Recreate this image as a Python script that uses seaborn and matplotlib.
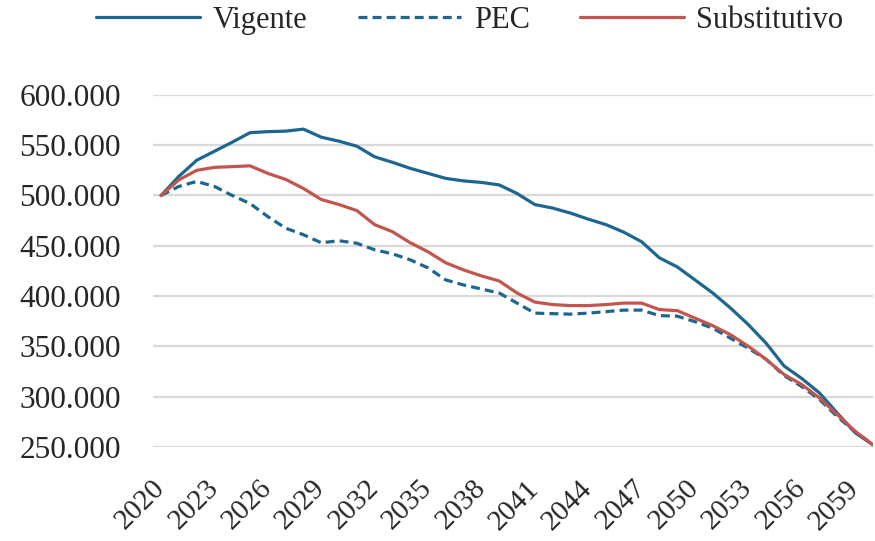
import matplotlib
matplotlib.use("Agg")
import matplotlib.pyplot as plt
import matplotlib.ticker as mticker
import seaborn as sns
import numpy as np

years = list(range(2020, 2061))
vigente = [500.0, 519, 535, 544, 553, 562.5, 563.5, 564, 566, 558,
           554, 549, 538.5, 533, 527, 522, 517, 514.5, 513, 510.5,
           502, 491, 487.5, 482.5, 476.5, 471, 463.5, 454, 438, 429,
           416, 403, 388, 371.5, 353, 330.5, 318, 303.5, 283.5, 264, 252]
pec = [500.0, 509, 514, 509, 500, 492, 479, 467.5, 461, 453,
       455, 452.5, 446, 442, 436, 428, 416, 411, 407, 403,
       393, 383, 382.5, 382, 383, 384.5, 386, 386, 380.5, 380,
       374.5, 368, 358, 348, 337, 321, 310, 297, 280, 265, 252]
substitutivo = [500.0, 515.5, 525, 528, 528.7, 529.5, 522, 516, 507, 496,
                491, 485, 471, 464, 453, 444, 433, 426, 420, 415,
                403, 394, 391.5, 390.5, 390.5, 391.5, 393, 393, 386.5, 385.5,
                378, 370.5, 361.5, 350, 337, 322, 312, 298.5, 282, 265.5, 252]
series_names = ["Vigente", "PEC", "Substitutivo"]
tick_years = list(range(2020, 2060, 3))
y_ticks = [250000, 300000, 350000, 400000, 450000, 500000, 550000, 600000]

sns.set_theme(style="white")
plt.rcParams['font.family'] = ['Liberation Serif', 'DejaVu Serif']

fig = plt.figure(figsize=(8.75, 5.41), dpi=100)
ax = fig.add_axes([0.1745, 0.174, 0.8232, 0.6505])

blue = "#1D6690"
red = "#C2564F"
lw = 2.3
yrs = np.array(years)
sns.lineplot(x=yrs, y=np.array(vigente) * 1000, ax=ax, color=blue, linewidth=lw,
             label=series_names[0])
sns.lineplot(x=yrs, y=np.array(pec) * 1000, ax=ax, color=blue, linewidth=lw,
             linestyle=(0, (2.8, 1.6)), label=series_names[1])
sns.lineplot(x=yrs, y=np.array(substitutivo) * 1000, ax=ax, color=red, linewidth=lw,
             label=series_names[2])

ax.set_xlim(2019.53, 2060)
ax.set_ylim(250000, 600000)
ax.set_yticks(y_ticks)
ax.yaxis.set_major_formatter(mticker.FuncFormatter(lambda v, p: f"{int(v):,}".replace(",", ".")))
ax.set_xticks(tick_years)
ax.set_xticklabels([str(t) for t in tick_years], rotation=45, ha="right",
                   va="center", rotation_mode="anchor")
ax.tick_params(axis="x", length=0, pad=27, labelsize=21)
ax.tick_params(axis="y", length=0, pad=23, labelsize=22.5)
ax.grid(axis="y", color="#d9d9d9", linewidth=1.6)
ax.grid(axis="x", visible=False)
for s in ax.spines.values():
    s.set_visible(False)
ax.set_xlabel("")
ax.set_ylabel("")

ax.get_legend().remove()
handles, labels = ax.get_legend_handles_labels()
fig.legend(handles, labels, loc="center", bbox_to_anchor=(0.537, 0.963), ncol=3,
           frameon=False, fontsize=22, handlelength=3.4, handletextpad=0.4,
           columnspacing=1.65)

fig.savefig("out.png", dpi=100)
